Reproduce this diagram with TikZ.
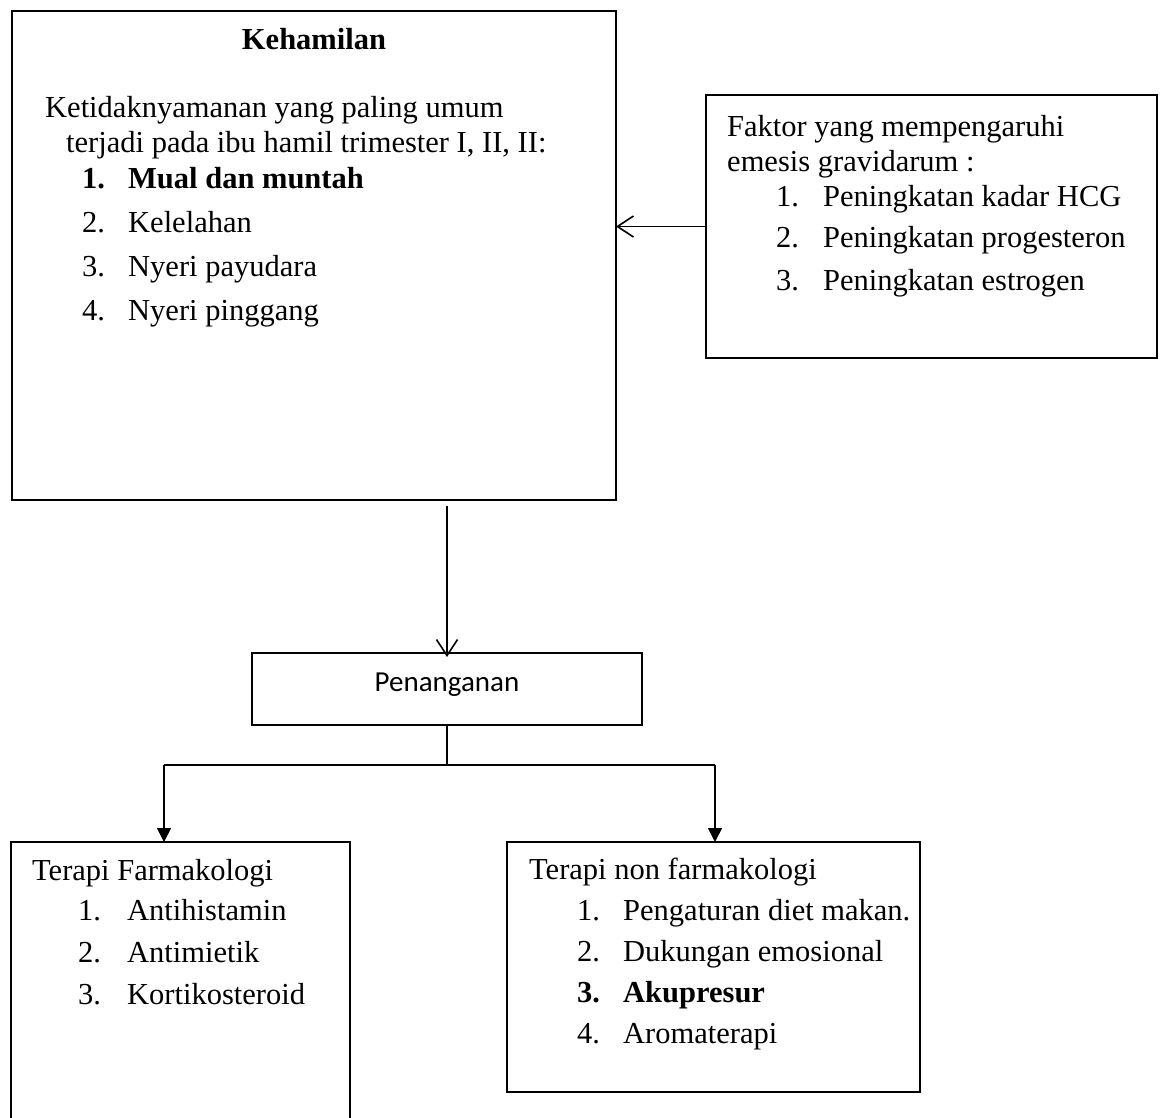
\documentclass[tikz,border=0pt]{standalone}
\usepackage{fontspec}
\setmainfont{Liberation Serif}
\newfontfamily\calibfont{Carlito}
\usetikzlibrary{arrows.meta}
\begin{document}
\begin{tikzpicture}[x=1pt,y=-1pt,
  boxnode/.style={draw=black, line width=1.8pt, anchor=north west, inner sep=0pt, outer sep=0pt},
  txt/.style={anchor=base west, inner sep=0pt, font=\fontsize{30.5}{35}\selectfont},
  txtb/.style={anchor=base west, inner sep=0pt, font=\fontsize{30.5}{35}\selectfont\bfseries},
  link/.style={line width=1.6pt},
  openarrow/.style={link, -{Straight Barb[length=16pt,width=21pt]}},
  triarrow/.style={link, -{Triangle[length=14pt,width=14pt]}}
]
\useasboundingbox (0,0) rectangle (1164,1117);
\clip (0,0) rectangle (1164,1117);
\fill[white] (0,0) rectangle (1164,1117);

% boxes
\node[boxnode, minimum width=604pt, minimum height=489pt] (keh) at (12,11) {};
\node[boxnode, minimum width=451pt, minimum height=263pt] (fak) at (706,95) {};
\node[boxnode, minimum width=390pt, minimum height=72pt] (pen) at (252,653) {};
\node[boxnode, minimum width=339pt, minimum height=290pt] (farm) at (11,842) {};
\node[boxnode, minimum width=413pt, minimum height=250pt] (nonf) at (507,842) {};

% Kehamilan text
\node[anchor=base, inner sep=0pt, font=\fontsize{30.5}{35}\selectfont\bfseries] (kehT) at (314,49) {Kehamilan};
\node[txt] (kl1) at (45,117) {Ketidaknyamanan yang paling umum};
\node[txt] (kl2) at (66,152) {terjadi pada ibu hamil trimester I, II, II:};
\node[txtb] (kn1) at (82,188) {1.};
\node[txtb] (ki1) at (128,188) {Mual dan muntah};
\node[txt] (kn2) at (82,232) {2.};
\node[txt] (ki2) at (128,232) {Kelelahan};
\node[txt] (kn3) at (82,276) {3.};
\node[txt] (ki3) at (128,276) {Nyeri payudara};
\node[txt] (kn4) at (82,320) {4.};
\node[txt] (ki4) at (128,320) {Nyeri pinggang};

% Faktor text
\node[txt] (fl1) at (727,136) {Faktor yang mempengaruhi};
\node[txt] (fl2) at (727,171) {emesis gravidarum :};
\node[txt] (fn1) at (776,206) {1.};
\node[txt] (fi1) at (823,206) {Peningkatan kadar HCG};
\node[txt] (fn2) at (776,247) {2.};
\node[txt] (fi2) at (823,247) {Peningkatan progesteron};
\node[txt] (fn3) at (776,290) {3.};
\node[txt] (fi3) at (823,290) {Peningkatan estrogen};

% Penanganan text
\node[anchor=base, inner sep=0pt, font=\calibfont\fontsize{29}{34}\selectfont] (penT) at (447,691) {Penanganan};

% Terapi Farmakologi text
\node[txt] (tl1) at (32,880) {Terapi Farmakologi};
\node[txt] (tn1) at (78,920) {1.};
\node[txt] (ti1) at (127,920) {Antihistamin};
\node[txt] (tn2) at (78,962) {2.};
\node[txt] (ti2) at (127,962) {Antimietik};
\node[txt] (tn3) at (78,1004) {3.};
\node[txt] (ti3) at (127,1004) {Kortikosteroid};

% Terapi non farmakologi text
\node[txt] (nl1) at (529,879) {Terapi non farmakologi};
\node[txt] (nn1) at (577,920) {1.};
\node[txt] (ni1) at (623,920) {Pengaturan diet makan.};
\node[txt] (nn2) at (577,961) {2.};
\node[txt] (ni2) at (623,961) {Dukungan emosional};
\node[txtb] (nn3) at (577,1002) {3.};
\node[txtb] (ni3) at (623,1002) {Akupresur};
\node[txt] (nn4) at (577,1043) {4.};
\node[txt] (ni4) at (623,1043) {Aromaterapi};

% connectors
\draw[openarrow] (fak.west) -- (fak.west -| keh.east);
\draw[openarrow, shorten >=-4pt] ([yshift=-6pt]pen.north |- keh.south) -- (pen.north);
\coordinate (jl) at (164,765);
\coordinate (jr) at (715,765);
\draw[link] (pen.south) -- (pen.south |- jl);
\draw[link] (jl) -- (jr);
\draw[triarrow] (jl) -- (jl |- farm.north);
\draw[triarrow] (jr) -- (jr |- nonf.north);
\end{tikzpicture}
\end{document}
